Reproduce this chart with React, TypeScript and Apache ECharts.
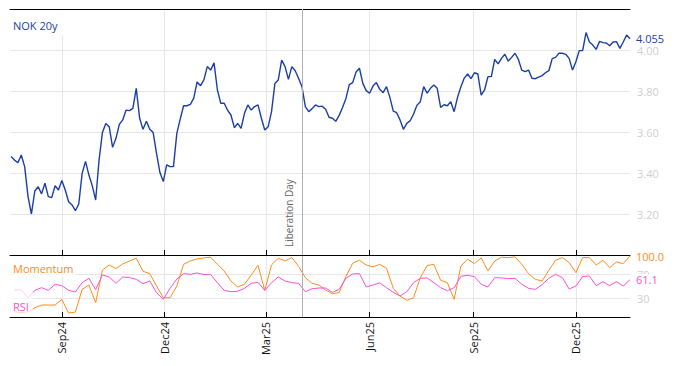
import React, { useEffect, useRef } from "react";
import * as echarts from "echarts";

// ---- data ----
const nokStart = "2024-07-18";
const nokStepDays = 3;
const nokValues = [
  3.480, 3.463, 3.450, 3.488, 3.431, 3.285, 3.200, 3.312, 3.333, 3.298,
  3.350, 3.285, 3.280, 3.338, 3.317, 3.363, 3.317, 3.260, 3.244, 3.216,
  3.249, 3.398, 3.457, 3.390, 3.337, 3.268, 3.463, 3.598, 3.642, 3.626,
  3.525, 3.569, 3.637, 3.659, 3.707, 3.704, 3.715, 3.813, 3.667, 3.613,
  3.652, 3.613, 3.597, 3.496, 3.402, 3.358, 3.440,
  3.431, 3.431, 3.593, 3.663, 3.728, 3.728, 3.735, 3.765, 3.844, 3.826,
  3.854, 3.919, 3.902, 3.937, 3.805, 3.740, 3.740, 3.707, 3.683, 3.621,
  3.642, 3.618, 3.691, 3.732, 3.707, 3.724, 3.732, 3.667, 3.610, 3.626,
  3.699, 3.837, 3.854, 3.951, 3.919, 3.857, 3.919, 3.899, 3.862, 3.821,
  3.724, 3.699, 3.714, 3.732, 3.724,
  3.726, 3.711, 3.672, 3.667, 3.652, 3.681, 3.720, 3.764, 3.831, 3.841,
  3.893, 3.911, 3.837, 3.802, 3.789, 3.824, 3.841, 3.808, 3.792, 3.821,
  3.769, 3.702, 3.694, 3.659, 3.613, 3.642, 3.655, 3.688, 3.730, 3.748,
  3.821, 3.790, 3.813, 3.829, 3.813, 3.720, 3.733, 3.728, 3.748, 3.699,
  3.769, 3.821, 3.863, 3.883, 3.860, 3.889, 3.883,
  3.780, 3.805, 3.870, 3.870, 3.954, 3.932, 3.959, 3.979, 3.946, 3.964,
  3.984, 3.954, 3.902, 3.894, 3.902, 3.862, 3.860, 3.868, 3.875, 3.889,
  3.899, 3.958, 3.964, 3.985, 3.984, 3.979, 3.959, 3.902, 3.943, 3.997,
  3.997, 4.085, 4.039, 4.024, 4.003, 4.042, 4.036, 4.034, 4.021, 4.039,
  4.041, 4.008, 4.039, 4.073, 4.055,
];

const oscStart = "2024-07-21";
const oscStepDays = 6;
const momentumValues = [
  8.6, 7.0, 8.6, 15.2, 19.6, 19.6, 19.6, 28.9, 6.4, 8.1,
  45.3, 52.5, 23.4, 77.1, 85.3, 79.3, 87.0, 91.9, 96.3, 74.9,
  71.1, 50.8, 31.6, 31.6, 50.8, 86.4, 91.9, 95.2, 96.9, 98.0,
  86.4, 75.5, 59.0, 49.2, 53.6, 68.9, 84.8, 43.7, 85.3, 96.3,
  91.9, 97.4, 83.2, 64.5, 55.2, 52.5, 44.2, 38.2, 39.9, 66.7,
  88.1, 93.0, 85.3, 82.1, 86.4, 79.9, 47.0, 34.4, 27.3, 31.6,
  64.5, 84.2, 86.4, 60.1, 56.3, 28.9, 83.7, 94.7, 87.5, 96.9,
  75.5, 91.9, 98.0, 97.4, 98.5, 86.4, 71.1, 61.8, 59.0, 76.6,
  93.0, 97.4, 89.2, 72.7, 97.4, 97.4, 85.3, 93.0, 81.0, 90.3,
  87.5, 100.0,
];
const rsiValues = [
  44.2, 44.8, 31.6, 43.7, 48.1, 43.7, 53.6, 51.4, 43.7, 41.0,
  56.3, 63.4, 44.8, 68.9, 65.6, 55.2, 65.6, 64.5, 61.8, 54.7,
  59.0, 39.9, 28.9, 47.0, 62.3, 71.1, 70.0, 72.2, 69.5, 69.5,
  56.3, 43.7, 41.5, 42.1, 47.0, 55.2, 56.8, 43.7, 56.3, 65.6,
  59.0, 56.3, 55.2, 41.5, 46.4, 47.5, 47.5, 40.4, 45.3, 63.4,
  70.5, 71.1, 49.2, 52.5, 55.8, 48.1, 40.4, 34.4, 41.5, 56.3,
  63.4, 64.0, 56.3, 48.1, 43.1, 48.1, 66.7, 68.4, 66.2, 53.6,
  49.2, 64.5, 64.0, 62.9, 63.4, 53.6, 47.0, 45.3, 53.0, 63.4,
  70.0, 64.5, 45.9, 50.8, 66.2, 67.3, 51.4, 57.9, 51.4, 57.9,
  50.8, 61.1,
];

const tickDates = ["2024-09-01", "2024-12-01", "2025-03-01", "2025-06-01", "2025-09-01", "2025-12-01"];
const tickLabels = ["Sep24", "Dec24", "Mar25", "Jun25", "Sep25", "Dec25"];
const xMinDate = "2024-07-17";
const xMaxDate = "2026-01-18";
const eventDate = "2025-04-02";
const eventLabel = "Liberation Day";
const mainTitle = "NOK 20y";
const momentumTitle = "Momentum";
const rsiTitle = "RSI";
const oscLabelValues = [30, 70];

// ---- helpers ----
const DAY = 86400000;
const ts = (s: string) => Date.parse(s + "T00:00:00Z");
const toPairs = (start: string, step: number, vals: number[]) =>
  vals.map((v, i) => [ts(start) + i * step * DAY, v]);

const BLUE = "#1a3ea6";
const ORANGE = "#ff8c1a";
const MAGENTA = "#ff4fd8";
const GRID = "#e6e6e6";
const AXISLBL = "#cfcfcf";
const FONT = '"Open Sans", sans-serif';

export default function App() {
  const ref = useRef<HTMLDivElement>(null);
  useEffect(() => {
    if (!ref.current) return;
    const chart = echarts.init(ref.current, undefined, { renderer: "svg" });
    const ticks = tickDates.map(ts);
    const xMin = ts(xMinDate);
    const xMax = ts(xMaxDate);
    const ev = ts(eventDate);
    const tickFmt = (v: number) => {
      const k = ticks.indexOf(v);
      return k >= 0 ? tickLabels[k] : "";
    };
    const baseX = {
      type: "value",
      min: xMin,
      max: xMax,
      axisLine: { show: true, onZero: false, lineStyle: { color: "#000", width: 1 } },
      axisTick: { show: true, inside: true, length: 5, customValues: ticks, lineStyle: { color: "#000" } },
      splitLine: { show: true, lineStyle: { color: GRID, width: 1 } },
    };
    chart.setOption({
      animation: false,
      textStyle: { fontFamily: FONT },
      grid: [
        { left: 10, right: 44, top: 9, height: 246 },
        { left: 10, right: 44, top: 256, height: 61 },
      ],
      xAxis: [
        { ...baseX, gridIndex: 0, position: "bottom", axisLabel: { show: false, customValues: ticks } },
        {
          type: "value", gridIndex: 0, position: "top", min: xMin, max: xMax,
          axisLine: { show: true, onZero: false, lineStyle: { color: "#000", width: 1 } },
          axisTick: { show: false }, axisLabel: { show: false }, splitLine: { show: false },
        },
        {
          ...baseX, gridIndex: 1, position: "bottom",
          axisLabel: {
            show: true, customValues: ticks, rotate: 90, margin: 5, fontSize: 11,
            color: "#111", fontFamily: FONT, formatter: tickFmt,
          },
        },
      ],
      yAxis: [
        {
          type: "value", gridIndex: 0, position: "right", min: 3.0, max: 4.2, interval: 0.2,
          axisLine: { show: false }, axisTick: { show: false },
          axisLabel: {
            color: AXISLBL, fontSize: 11, margin: 7, fontFamily: FONT,
            showMinLabel: false, showMaxLabel: false,
            formatter: (v: number) => v.toFixed(2),
          },
          splitLine: { show: true, showMinLine: false, showMaxLine: false, lineStyle: { color: GRID } },
        },
        {
          type: "value", gridIndex: 1, position: "right", min: 0, max: 100,
          axisLine: { show: false },
          axisTick: { show: false, customValues: oscLabelValues },
          axisLabel: { color: AXISLBL, fontSize: 11, margin: 7, fontFamily: FONT, customValues: oscLabelValues },
          splitLine: { show: true, lineStyle: { color: GRID } },
        },
      ],
      series: [
        {
          type: "line", name: mainTitle, xAxisIndex: 0, yAxisIndex: 0,
          data: toPairs(nokStart, nokStepDays, nokValues),
          showSymbol: false, symbol: "none",
          lineStyle: { color: BLUE, width: 1.4 },
          itemStyle: { color: BLUE },
          endLabel: {
            show: true, color: BLUE, fontSize: 11, distance: 6, fontFamily: FONT,
            formatter: (p: any) => Number(p.value[1]).toFixed(3),
          },
          markLine: {
            silent: true, symbol: ["none", "none"],
            lineStyle: { color: "#b0b0b0", type: "solid", width: 1 },
            label: {
              show: true, formatter: eventLabel, position: "insideStartTop",
              fontSize: 10, color: "#666", fontFamily: FONT, distance: 8,
            },
            data: [{ xAxis: ev }],
          },
          z: 3,
        },
        {
          type: "line", name: momentumTitle, xAxisIndex: 2, yAxisIndex: 1,
          data: toPairs(oscStart, oscStepDays, momentumValues),
          showSymbol: false, symbol: "none",
          lineStyle: { color: ORANGE, width: 1 },
          itemStyle: { color: ORANGE },
          endLabel: {
            show: true, color: ORANGE, fontSize: 11, distance: 6, fontFamily: FONT,
            backgroundColor: "#fff",
            formatter: (p: any) => Number(p.value[1]).toFixed(1),
          },
          markLine: {
            silent: true, symbol: ["none", "none"],
            lineStyle: { color: "#b0b0b0", type: "solid", width: 1 },
            label: { show: false },
            data: [{ xAxis: ev }],
          },
          z: 3,
        },
        {
          type: "line", name: rsiTitle, xAxisIndex: 2, yAxisIndex: 1,
          data: toPairs(oscStart, oscStepDays, rsiValues),
          showSymbol: false, symbol: "none",
          lineStyle: { color: MAGENTA, width: 1 },
          itemStyle: { color: MAGENTA },
          endLabel: {
            show: true, color: MAGENTA, fontSize: 11, distance: 6, fontFamily: FONT,
            backgroundColor: "#fff",
            formatter: (p: any) => Number(p.value[1]).toFixed(1),
          },
          z: 4,
        },
      ],
      graphic: [
        { type: "rect", z: 100, shape: { x: 10, y: 10, width: 53, height: 25 }, style: { fill: "rgba(255,255,255,0.92)" } },
        { type: "text", z: 101, x: 13, y: 25, style: { text: mainTitle, fill: BLUE, font: `11px ${FONT}`, verticalAlign: "middle" } },
        { type: "rect", z: 100, shape: { x: 10, y: 259, width: 66, height: 18 }, style: { fill: "rgba(255,255,255,0.7)" } },
        { type: "text", z: 101, x: 13, y: 268, style: { text: momentumTitle, fill: ORANGE, font: `11px ${FONT}`, verticalAlign: "middle" } },
        { type: "rect", z: 100, shape: { x: 10, y: 287, width: 23, height: 29 }, style: { fill: "rgba(255,255,255,0.7)" } },
        { type: "text", z: 101, x: 13, y: 306, style: { text: rsiTitle, fill: MAGENTA, font: `11px ${FONT}`, verticalAlign: "middle" } },
      ],
    });
    return () => chart.dispose();
  }, []);
  return (
    <div
      ref={ref}
      style={{ position: "absolute", left: 0, top: 0, width: 674, height: 366, background: "#fff" }}
    />
  );
}
